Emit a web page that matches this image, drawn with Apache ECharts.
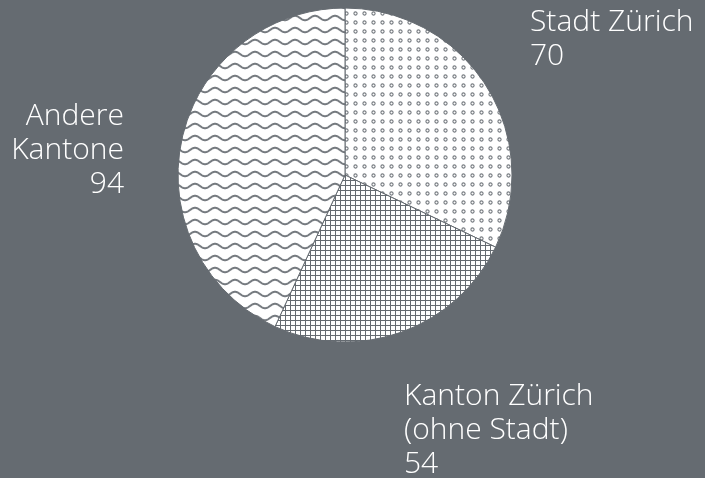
<!DOCTYPE html>
<html><head><meta charset="utf-8">
<script src="https://cdn.jsdelivr.net/npm/echarts@6/dist/echarts.min.js"></script>
<style>html,body{margin:0;padding:0;background:#656b71}#c{width:705px;height:478px}</style>
</head><body><div id="c"></div>
<script>
const categories = ['Stadt Zürich', 'Kanton Zürich\n(ohne Stadt)', 'Andere\nKantone'];
const values = [70, 54, 94];

const BG = '#656b71';
const LINE = '#656b71';

function tile(w, h, draw) {
  const c = document.createElement('canvas');
  c.width = w; c.height = h;
  const ctx = c.getContext('2d');
  ctx.fillStyle = '#ffffff';
  ctx.fillRect(0, 0, w, h);
  draw(ctx);
  return c;
}
const dots = tile(9, 9, ctx => {
  ctx.strokeStyle = '#767b80'; ctx.lineWidth = 1.1;
  ctx.beginPath(); ctx.arc(4.5, 4.5, 1.6, 0, Math.PI * 2); ctx.stroke();
});
const grid = tile(5, 5, ctx => {
  ctx.fillStyle = LINE;
  ctx.fillRect(0, 0, 5, 1);
  ctx.fillRect(0, 0, 1, 5);
});
const waves = tile(20, 12, ctx => {
  ctx.strokeStyle = '#767b80'; ctx.lineWidth = 2;
  ctx.beginPath();
  for (let x = -1; x <= 21; x += 0.5) {
    const y = 6 + 2.2 * Math.sin(x / 20 * Math.PI * 2);
    if (x === -1) ctx.moveTo(x, y); else ctx.lineTo(x, y);
  }
  ctx.stroke();
});
const patterns = [dots, grid, waves];
const labelPos = [
  {x: 530, y: 5, align: 'left'},
  {x: 404, y: 379, align: 'left'},
  {x: 124, y: 99, align: 'right'}
];

const chart = echarts.init(document.getElementById('c'));
chart.setOption({
  backgroundColor: BG,
  animation: false,
  series: [{
    type: 'pie',
    center: [345, 175],
    radius: 167,
    startAngle: 90,
    clockwise: true,
    data: categories.map((n, i) => ({
      name: n, value: values[i],
      itemStyle: {color: {image: patterns[i], repeat: 'repeat'}}
    })),
    itemStyle: {borderColor: LINE, borderWidth: 1},
    label: {
      show: true,
      position: 'outside',
      formatter: p => p.name + '\n' + p.value,
      color: '#ffffff',
      fontFamily: 'Open Sans',
      fontWeight: 300,
      fontSize: 30,
      lineHeight: 34,
      overflow: 'none',
      width: 300
    },
    labelLine: {show: false},
    labelLayout: p => ({
      x: labelPos[p.dataIndex].x,
      y: labelPos[p.dataIndex].y,
      align: labelPos[p.dataIndex].align,
      verticalAlign: 'top'
    }),
    emphasis: {disabled: true}
  }]
});
</script></body></html>
